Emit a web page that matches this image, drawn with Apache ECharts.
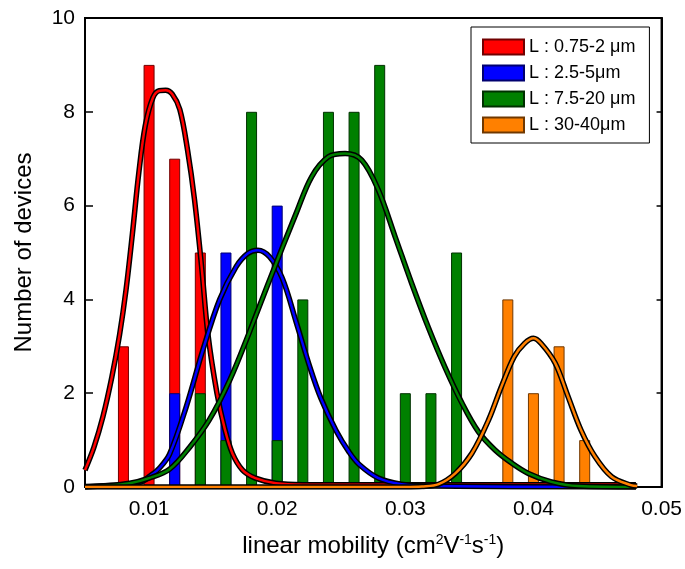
<!DOCTYPE html>
<html>
<head>
<meta charset="utf-8">
<script src="https://cdn.jsdelivr.net/npm/echarts@6/dist/echarts.min.js"></script>
<style>html,body{margin:0;padding:0;background:#fff}#c{width:685px;height:569px}</style>
</head>
<body>
<div id="c"></div>
<script>
const seriesNames = ['L : 0.75-2 \u03bcm', 'L : 2.5-5\u03bcm', 'L : 7.5-20 \u03bcm', 'L : 30-40\u03bcm'];
const xTicks = [0.01, 0.02, 0.03, 0.04, 0.05];
const yTicks = [0, 2, 4, 6, 8, 10];

// histogram bars: [bin centre, count]
const barsRed = [[0.008, 3], [0.010, 9], [0.012, 7], [0.014, 5]];
const barsBlue = [[0.012, 2], [0.016, 5], [0.020, 6]];
const barsGreen = [[0.014, 2], [0.016, 1], [0.018, 8], [0.020, 1], [0.022, 4], [0.024, 8], [0.026, 8], [0.028, 9], [0.030, 2], [0.032, 2], [0.034, 5]];
const barsOrange = [[0.038, 4], [0.040, 2], [0.042, 3], [0.044, 1]];

// fitted curves, points
const fitRed = [[0.005, 0.36], [0.0057, 0.85], [0.0064, 1.5], [0.0071, 2.35], [0.0077, 3.25], [0.0082, 4.2], [0.0087, 5.4], [0.0092, 6.7], [0.0097, 7.7], [0.0103, 8.3], [0.0108, 8.45], [0.0113, 8.46], [0.0118, 8.38], [0.0124, 8.05], [0.013, 7.19], [0.01355, 6.12], [0.0141, 4.7], [0.0146, 3.25], [0.0153, 2.0], [0.0159, 1.25], [0.0165, 0.72], [0.0173, 0.36], [0.0183, 0.19], [0.0199, 0.08], [0.022, 0.05], [0.048, 0.05]];
const fitBlue = [[0.005, 0.01], [0.007, 0.03], [0.0093, 0.1], [0.0101, 0.24], [0.0108, 0.4], [0.0116, 0.7], [0.0129, 1.71], [0.0142, 2.92], [0.0155, 3.99], [0.0168, 4.7], [0.0177, 4.98], [0.0185, 5.05], [0.0194, 4.91], [0.0204, 4.45], [0.0215, 3.5], [0.0225, 2.6], [0.0234, 1.9], [0.0246, 1.2], [0.0256, 0.75], [0.0264, 0.48], [0.0279, 0.19], [0.0297, 0.06], [0.032, 0.02], [0.048, 0.0]];
const fitGreen = [[0.005, 0.0], [0.0062, 0.02], [0.0085, 0.08], [0.01, 0.19], [0.0116, 0.38], [0.0132, 0.86], [0.0147, 1.43], [0.0163, 2.28], [0.0178, 3.28], [0.0194, 4.41], [0.0215, 5.85], [0.0227, 6.62], [0.024, 7.04], [0.0253, 7.11], [0.0266, 6.97], [0.0279, 6.33], [0.0292, 5.34], [0.0305, 4.34], [0.0318, 3.4], [0.0331, 2.55], [0.0344, 1.8], [0.0357, 1.18], [0.037, 0.79], [0.0383, 0.51], [0.0396, 0.29], [0.0414, 0.11], [0.0435, 0.02], [0.048, 0.0]];
const fitOrange = [[0.005, 0.0], [0.03, 0.0], [0.0313, 0.01], [0.0326, 0.06], [0.0339, 0.29], [0.0352, 0.72], [0.0365, 1.43], [0.0375, 2.14], [0.0385, 2.78], [0.0393, 3.06], [0.04, 3.17], [0.0406, 3.06], [0.0417, 2.64], [0.0427, 1.93], [0.0437, 1.22], [0.0448, 0.65], [0.0461, 0.22], [0.0476, 0.04], [0.0481, 0.02]];

const colors = ['#ff0000', '#0000ff', '#008000', '#ff8000'];
const borders = ['#700000', '#000070', '#003000', '#703800'];
const bars = [barsRed, barsBlue, barsGreen, barsOrange];
const fits = [fitRed, fitBlue, fitGreen, fitOrange];

const FONT = '"Liberation Sans", Arial, sans-serif';
const chart = echarts.init(document.getElementById('c'));

const series = [];
bars.forEach((d, i) => {
  series.push({
    name: seriesNames[i], type: 'bar', data: d, barWidth: 11, barGap: '-100%',
    itemStyle: { color: colors[i], borderColor: borders[i], borderWidth: 1 },
    z: 2, animation: false
  });
});
fits.forEach((d, i) => {
  series.push({
    name: 'fit-outline-' + i, type: 'line', data: d, smooth: 0.35, showSymbol: false,
    lineStyle: { color: '#000', width: 5.5 }, z: 3 + i * 2, animation: false
  });
  series.push({
    name: 'fit-' + i, type: 'line', data: d, smooth: 0.35, showSymbol: false,
    lineStyle: { color: colors[i], width: 2.5 }, z: 4 + i * 2, animation: false
  });
});

chart.setOption({
  animation: false,
  grid: { left: 85, right: 21, top: 18, bottom: 82, show: true, borderColor: '#000', borderWidth: 2, backgroundColor: 'transparent' },
  legend: {
    data: seriesNames, orient: 'vertical', left: 471, top: 27, icon: 'rect',
    padding: [11, 14, 9, 11], itemWidth: 41, itemHeight: 15, itemGap: 8,
    borderColor: '#000', borderWidth: 1, backgroundColor: '#fff',
    textStyle: { fontSize: 18, color: '#000', fontFamily: FONT },
    selectedMode: false
  },
  xAxis: [{
    type: 'value', min: 0.005, max: 0.05,
    name: 'linear mobility (cm{sup|2}V{sup|-1}s{sup|-1})', nameLocation: 'middle', nameGap: 46,
    nameTextStyle: { fontSize: 24, color: '#000', fontFamily: FONT,
      rich: { sup: { fontSize: 14, verticalAlign: 'top', color: '#000', fontFamily: FONT, padding: [0, 0, 12, 0] } } },
    axisLine: { lineStyle: { color: '#000', width: 2 } },
    axisTick: { inside: true, length: 5, lineStyle: { color: '#000', width: 1.5 }, customValues: xTicks },
    axisLabel: { fontSize: 21, color: '#000', fontFamily: FONT, margin: 12, customValues: xTicks,
      formatter: v => v.toFixed(2) },
    splitLine: { show: false }
  }],
  yAxis: [{
    type: 'value', min: 0, max: 10, interval: 2,
    name: 'Number of devices', nameLocation: 'middle', nameGap: 49,
    nameTextStyle: { fontSize: 24, color: '#000', fontFamily: FONT },
    axisLine: { show: true, lineStyle: { color: '#000', width: 2 } },
    axisTick: { show: true, inside: true, length: 8, lineStyle: { color: '#000', width: 1.5 } },
    axisLabel: { fontSize: 21, color: '#000', fontFamily: FONT, margin: 10, customValues: yTicks },
    splitLine: { show: false }
  }, {
    type: 'value', min: 0, max: 10, interval: 2, position: 'right',
    axisLine: { show: true, lineStyle: { color: '#000', width: 2 } },
    axisTick: { show: true, inside: true, length: 5, lineStyle: { color: '#000', width: 1.5 } },
    axisLabel: { show: false },
    splitLine: { show: false }
  }],
  series: series
});
</script>
</body>
</html>
